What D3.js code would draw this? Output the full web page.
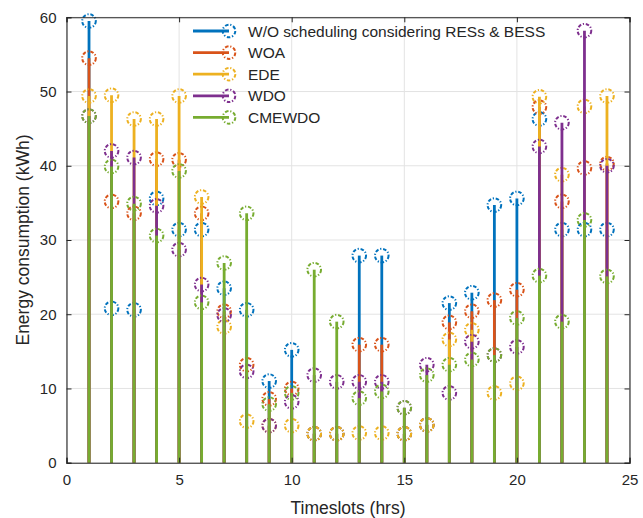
<!DOCTYPE html>
<html>
<head>
<meta charset="utf-8">
<script src="https://cdn.jsdelivr.net/npm/d3@7"></script>
<style>
  html, body { margin: 0; padding: 0; background: #fff; }
  svg { display: block; font-family: "Liberation Sans", Arial, Helvetica, sans-serif; }
</style>
</head>
<body>
<svg id="chart" width="643" height="518"></svg>
<script>
// ---- data ----
const timeslots = d3.range(1, 25);
const seriesNames = ["W/O scheduling considering RESs & BESS", "WOA", "EDE", "WDO", "CMEWDO"];
const seriesColors = ["#0072BD", "#D95319", "#EDB120", "#7E2F8E", "#77AC30"];
const woValues   = [59.5, 20.8, 20.6, 35.6, 31.4, 31.4, 23.5, 20.6, 11.0, 15.2, 3.9, 3.9, 27.9, 27.9, 3.9, 5.1, 21.5, 22.9, 34.7, 35.6, 46.3, 31.4, 31.4, 31.4];
const woaValues  = [54.5, 35.2, 33.6, 40.9, 40.8, 33.6, 20.4, 13.2, 8.6, 10.0, 3.9, 3.9, 15.9, 15.9, 3.9, 5.1, 18.9, 20.4, 21.9, 23.3, 47.9, 35.2, 39.7, 40.3];
const edeValues  = [49.4, 49.5, 46.3, 46.3, 49.4, 35.8, 18.3, 5.6, 5.0, 5.0, 3.9, 3.9, 4.0, 4.0, 3.9, 5.1, 16.6, 17.9, 9.4, 10.7, 49.3, 38.8, 48.0, 49.4];
const wdoValues  = [46.7, 42.0, 41.1, 34.6, 28.7, 24.0, 19.9, 12.3, 5.0, 8.2, 11.8, 10.9, 10.9, 10.9, 7.4, 13.2, 9.4, 16.3, 14.5, 15.6, 42.6, 45.8, 58.2, 40.0];
const cmeValues  = [46.7, 39.9, 34.9, 30.6, 39.3, 21.6, 26.9, 33.6, 7.9, 9.4, 26.0, 19.0, 8.7, 9.6, 7.4, 11.8, 13.2, 13.9, 14.5, 19.5, 25.2, 19.0, 32.7, 25.1];
const xTicks = [0, 5, 10, 15, 20, 25];
const yTicks = [0, 10, 20, 30, 40, 50, 60];
const xLabel = "Timeslots (hrs)";
const yLabel = "Energy consumption (kWh)";

const allSeries = [woValues, woaValues, edeValues, wdoValues, cmeValues];

// ---- layout ----
const svg = d3.select("#chart");
const pLeft = 66.5, pRight = 629.5, pTop = 17.3, pBottom = 462.7;
const x = d3.scaleLinear().domain([0, 25]).range([pLeft, pRight]);
const y = d3.scaleLinear().domain([0, 60]).range([pBottom, pTop]);
const axisColor = "#262626";
const markerDash = "3.5,1.8,1.2,1.8";

// grid
const grid = svg.append("g");
grid.selectAll("line.gx").data(xTicks).join("line").attr("class", "gx")
  .attr("x1", d => x(d)).attr("x2", d => x(d))
  .attr("y1", pTop).attr("y2", pBottom)
  .attr("stroke", "#e3e3e3").attr("stroke-width", 1);
grid.selectAll("line.gy").data(yTicks).join("line").attr("class", "gy")
  .attr("y1", d => y(d)).attr("y2", d => y(d))
  .attr("x1", pLeft).attr("x2", pRight)
  .attr("stroke", "#e3e3e3").attr("stroke-width", 1);

// stems
allSeries.forEach((vals, si) => {
  const g = svg.append("g");
  g.selectAll("line").data(vals).join("line")
    .attr("x1", (d, i) => x(timeslots[i])).attr("x2", (d, i) => x(timeslots[i]))
    .attr("y1", y(0)).attr("y2", d => y(d))
    .attr("stroke", seriesColors[si]).attr("stroke-width", 2.8);
  g.selectAll("circle").data(vals).join("circle")
    .attr("cx", (d, i) => x(timeslots[i])).attr("cy", d => y(d))
    .attr("r", 6.8)
    .attr("fill", "none")
    .attr("stroke", seriesColors[si]).attr("stroke-width", 2)
    .attr("stroke-dasharray", markerDash);
});

// axes
const xAxisB = d3.axisBottom(x).tickValues(xTicks).tickSize(-5).tickPadding(12);
const xAxisT = d3.axisTop(x).tickValues(xTicks).tickSize(-5).tickFormat("");
const yAxisL = d3.axisLeft(y).tickValues(yTicks).tickSize(-5).tickPadding(10);
const yAxisR = d3.axisRight(y).tickValues(yTicks).tickSize(-5).tickFormat("");

function styleAxis(g) {
  g.selectAll("path").attr("stroke", axisColor).attr("stroke-width", 1.1);
  g.selectAll("line").attr("stroke", axisColor);
  g.selectAll("text").attr("fill", axisColor).style("font-size", "15px")
    .style("font-family", "'Liberation Sans', Arial, sans-serif");
}
svg.append("g").attr("transform", `translate(0,${pBottom})`).call(xAxisB).call(styleAxis);
svg.append("g").attr("transform", `translate(0,${pTop})`).call(xAxisT).call(styleAxis);
svg.append("g").attr("transform", `translate(${pLeft},0)`).call(yAxisL).call(styleAxis);
svg.append("g").attr("transform", `translate(${pRight},0)`).call(yAxisR).call(styleAxis);

// labels
svg.append("text").attr("x", (pLeft + pRight) / 2).attr("y", 514)
  .attr("text-anchor", "middle").attr("fill", axisColor).style("font-size", "17.5px")
  .text(xLabel);
svg.append("text")
  .attr("transform", `translate(29,${(pTop + pBottom) / 2}) rotate(-90)`)
  .attr("text-anchor", "middle").attr("fill", axisColor).style("font-size", "17.5px")
  .text(yLabel);

// legend
const legend = svg.append("g");
const legY0 = 31, legDY = 21.6;
seriesNames.forEach((name, i) => {
  const ly = legY0 + i * legDY;
  legend.append("line").attr("x1", 193).attr("x2", 229).attr("y1", ly).attr("y2", ly)
    .attr("stroke", seriesColors[i]).attr("stroke-width", 2.8);
  legend.append("circle").attr("cx", 229).attr("cy", ly).attr("r", 6.3)
    .attr("fill", "none").attr("stroke", seriesColors[i]).attr("stroke-width", 2)
    .attr("stroke-dasharray", markerDash);
  legend.append("text").attr("x", 248).attr("y", ly + 5.5)
    .attr("fill", axisColor).style("font-size", "15.5px").text(name);
});
</script>
</body>
</html>
